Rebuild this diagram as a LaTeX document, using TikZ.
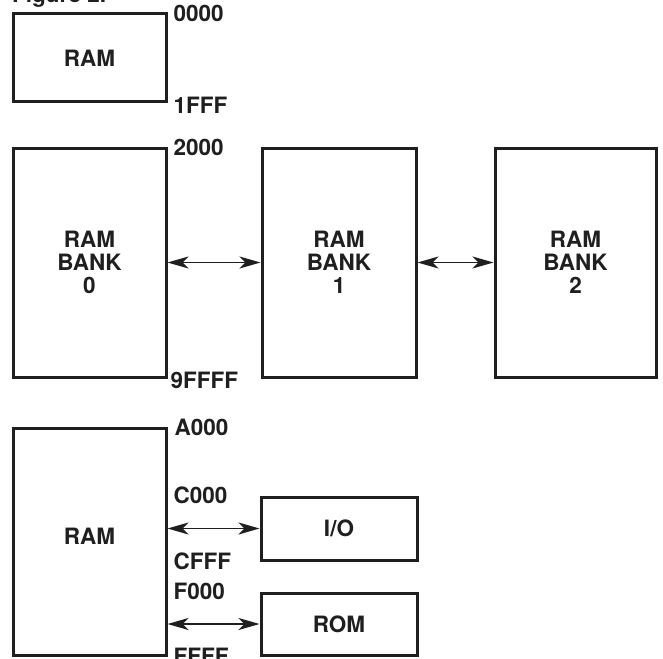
\documentclass[tikz,border=0pt]{standalone}
\usepackage{fontspec}
\setmainfont{TeX Gyre Heros}
\usetikzlibrary{arrows.meta,calc}
\begin{document}
\begin{tikzpicture}[x=1pt,y=-1pt,
  box/.style={draw=black!88,line width=3pt,inner sep=0pt,
    font=\fontsize{22.5}{23}\selectfont\bfseries,align=center,text=black!88},
  lab/.style={anchor=west,inner sep=0pt,font=\fontsize{22.5}{23}\selectfont\bfseries,text=black!88},
  link/.style={line width=1.8pt,draw=black!88,{Stealth[length=21pt,width=12pt,inset=6pt]}-{Stealth[length=21pt,width=12pt,inset=6pt]}}]
\useasboundingbox (0,0) rectangle (663,658);
\clip (0,0) rectangle (663,658);
\node[lab,anchor=base west] (fig) at (12,3) {Figure 2.};
% top RAM
\node[box,minimum width=153pt,minimum height=88pt] (ram1) at (89.5,58) {RAM};
\node[lab] (a0000) at ([xshift=6pt,yshift=-1pt]ram1.north east) {0000};
\node[lab] (a1fff) at ([xshift=6pt,yshift=-2pt]ram1.south east) {1FFF};
% banks
\node[box,minimum width=153pt,minimum height=229pt] (bank0) at (89.5,262.5) {RAM\\BANK\\0};
\node[box,minimum width=154pt,minimum height=229pt] (bank1) at (339,262.5) {RAM\\BANK\\1};
\node[box,minimum width=161pt,minimum height=229pt] (bank2) at (575.5,262.5) {RAM\\BANK\\2};
\node[lab] (a2000) at ([xshift=6pt,yshift=-1pt]bank0.north east) {2000};
\node[lab] (a9ffff) at ([xshift=3pt,yshift=-2pt]bank0.south east) {9FFFF};
\draw[link] (bank0.east) -- (bank1.west);
\draw[link] (bank1.east) -- (bank2.west);
% bottom RAM
\node[box,minimum width=153pt,minimum height=227pt] (ram2) at (89.5,541.5) {};
\node[box,draw=none] (ram2t) at (89.5,536) {RAM};
\node[box,minimum width=156pt,minimum height=63pt] (io) at (339,528.5) {I/O};
\node[box,minimum width=156pt,minimum height=62pt] (rom) at (339,624) {ROM};
\node[lab] (aa000) at ([xshift=7pt,yshift=-1pt]ram2.north east) {A000};
\node[lab] (ac000) at ($(ram2.east |- io.north)+(6,0)$) {C000};
\node[lab] (acfff) at ($(ram2.east |- io.south)+(6,0)$) {CFFF};
\node[lab] (af000) at ($(ram2.east |- rom.north)+(6,0)$) {F000};
\node[lab] (affff) at ($(ram2.east |- rom.south)+(6,0)$) {FFFF};
\draw[link] (ram2.east |- io.west) -- (io.west);
\draw[link] (ram2.east |- rom.west) -- (rom.west);
\end{tikzpicture}
\end{document}
